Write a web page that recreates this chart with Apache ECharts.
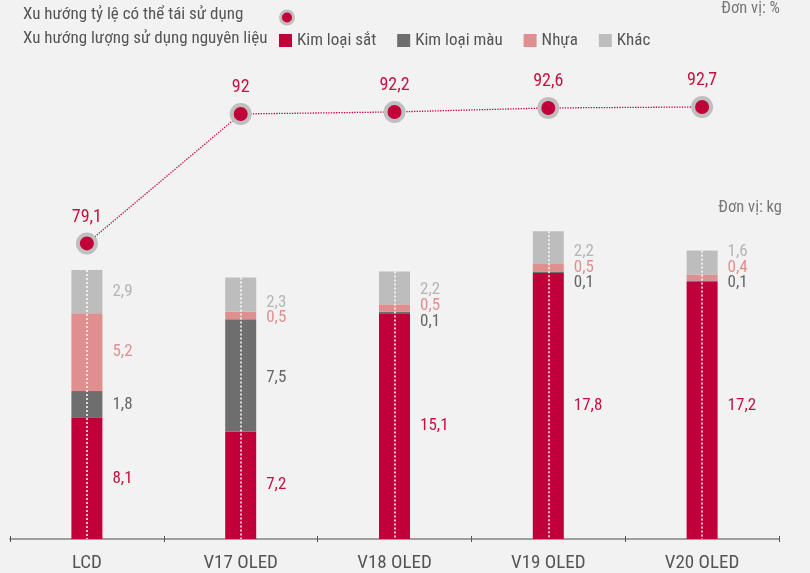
<!DOCTYPE html>
<html>
<head>
<meta charset="utf-8">
<script src="https://cdn.jsdelivr.net/npm/echarts@6/dist/echarts.min.js"></script>
<style>
html,body{margin:0;padding:0;background:#f2f2f2;}
#c{width:810px;height:573px;}
</style>
</head>
<body>
<div id="c"></div>
<script>
const categories = ['LCD', 'V17 OLED', 'V18 OLED', 'V19 OLED', 'V20 OLED'];
const ironValues = [8.1, 7.2, 15.1, 17.8, 17.2];
const nonFerrousValues = [1.8, 7.5, 0.1, 0.1, 0.1];
const plasticValues = [5.2, 0.5, 0.5, 0.5, 0.4];
const otherValues = [2.9, 2.3, 2.2, 2.2, 1.6];
const recycleRate = [79.1, 92, 92.2, 92.6, 92.7];

const lineName = 'Xu hướng tỷ lệ có thể tái sử dụng';
const barNames = ['Kim loại sắt', 'Kim loại màu', 'Nhựa', 'Khác'];
const barColors = ['#c1003a', '#6e6e6e', '#e08f8f', '#bdbdbd'];
const labelColors = ['#c8103f', '#666666', '#e08f8f', '#b5b5b5'];
const lineColor = '#c1003a';
// vertical nudges (px) of value labels so that small segments do not overlap
const labelNudge = [
  [0, 0, 0, 0, -5],
  [0, 2, 9, 11, 2],
  [0, 2, -2, 0, -10],
  [0, 8, 2, 4, -11]
];

const FONT = '"Liberation Sans Narrow", "Roboto Condensed", Roboto, sans-serif';
const fmt = v => String(v).replace('.', ',');

const seriesValues = [ironValues, nonFerrousValues, plasticValues, otherValues];
const totals = categories.map((c, i) => seriesValues.reduce((s, arr) => s + arr[i], 0));

const barSeries = seriesValues.map((vals, si) => ({
  name: barNames[si],
  type: 'bar',
  stack: 'mat',
  barWidth: 31,
  xAxisIndex: 0,
  yAxisIndex: 0,
  itemStyle: { color: barColors[si] },
  data: vals.map((v, ci) => ({
    value: v,
    label: { offset: [0, labelNudge[si][ci]] }
  })),
  label: {
    show: true,
    position: 'right',
    distance: 10,
    color: labelColors[si],
    fontSize: 17,
    fontFamily: FONT,
    formatter: p => fmt(p.value)
  }
}));

// dotted white center lines through each stacked bar
barSeries[3].markLine = {
  silent: true,
  symbol: ['none', 'none'],
  animation: false,
  label: { show: false },
  lineStyle: { color: '#ffffff', type: [2, 2], width: 1.5 },
  emphasis: { disabled: true },
  data: categories.map((c, i) => [
    { coord: [i, totals[i]] },
    { coord: [i, 0] }
  ])
};

const option = {
  backgroundColor: '#f2f2f2',
  animation: false,
  textStyle: { fontFamily: FONT },
  grid: { left: 10, right: 31, top: 63, bottom: 29, containLabel: false },
  legend: [
    {
      left: 279, top: 9.5, padding: 0,
      itemWidth: 13, itemHeight: 13,
      formatter: () => '',
      selectedMode: false,
      data: [{ name: lineName, icon: 'circle',
        itemStyle: { color: lineColor, borderColor: '#bfbfbf', borderWidth: 3 } }]
    },
    {
      left: 279, top: 32, padding: 0,
      itemWidth: 13, itemHeight: 13,
      itemGap: 21,
      selectedMode: false,
      icon: 'rect',
      textStyle: { fontSize: 17, color: '#555', fontFamily: FONT },
      data: barNames
    }
  ],
  graphic: [
    { type: 'text', left: 23, top: 6, style: { text: lineName, fontSize: 17, fill: '#555', fontFamily: FONT } },
    { type: 'text', left: 23, top: 30, style: { text: 'Xu hướng lượng sử dụng nguyên liệu', fontSize: 17, fill: '#555', fontFamily: FONT } },
    { type: 'text', right: 30, top: 0, style: { text: 'Đơn vị: %', fontSize: 16.5, fill: '#777', fontFamily: FONT } },
    { type: 'text', right: 28, top: 199, style: { text: 'Đơn vị: kg', fontSize: 16.5, fill: '#777', fontFamily: FONT } }
  ],
  xAxis: [
    {
      type: 'category',
      data: categories,
      axisLine: { lineStyle: { color: '#9e9e9e', width: 2 } },
      axisTick: { show: true, length: 3, lineStyle: { color: '#555' } },
      axisLabel: { fontSize: 19, color: '#555', margin: 15, fontFamily: FONT }
    },
    {
      type: 'category',
      data: categories,
      position: 'bottom',
      axisLine: { show: false },
      axisTick: { show: true, inside: true, length: 3, lineStyle: { color: '#555' } },
      axisLabel: { show: false }
    }
  ],
  yAxis: [
    { type: 'value', min: 0, max: 31.85, show: false, splitLine: { show: false } },
    { type: 'value', min: 49.64, max: 97.08, show: false, splitLine: { show: false } }
  ],
  series: [
    ...barSeries,
    {
      name: lineName,
      type: 'line',
      xAxisIndex: 0,
      yAxisIndex: 1,
      data: recycleRate,
      z: 10,
      symbol: 'circle',
      symbolSize: 18,
      itemStyle: { color: lineColor, borderColor: '#bfbfbf', borderWidth: 4 },
      lineStyle: { color: lineColor, type: 'dotted', width: 1.3 },
      label: {
        show: true,
        position: 'top',
        distance: 6,
        fontSize: 18,
        color: '#c8103f',
        fontFamily: FONT,
        formatter: p => fmt(p.value)
      }
    }
  ]
};

const chart = echarts.init(document.getElementById('c'));
chart.setOption(option);
</script>
</body>
</html>
